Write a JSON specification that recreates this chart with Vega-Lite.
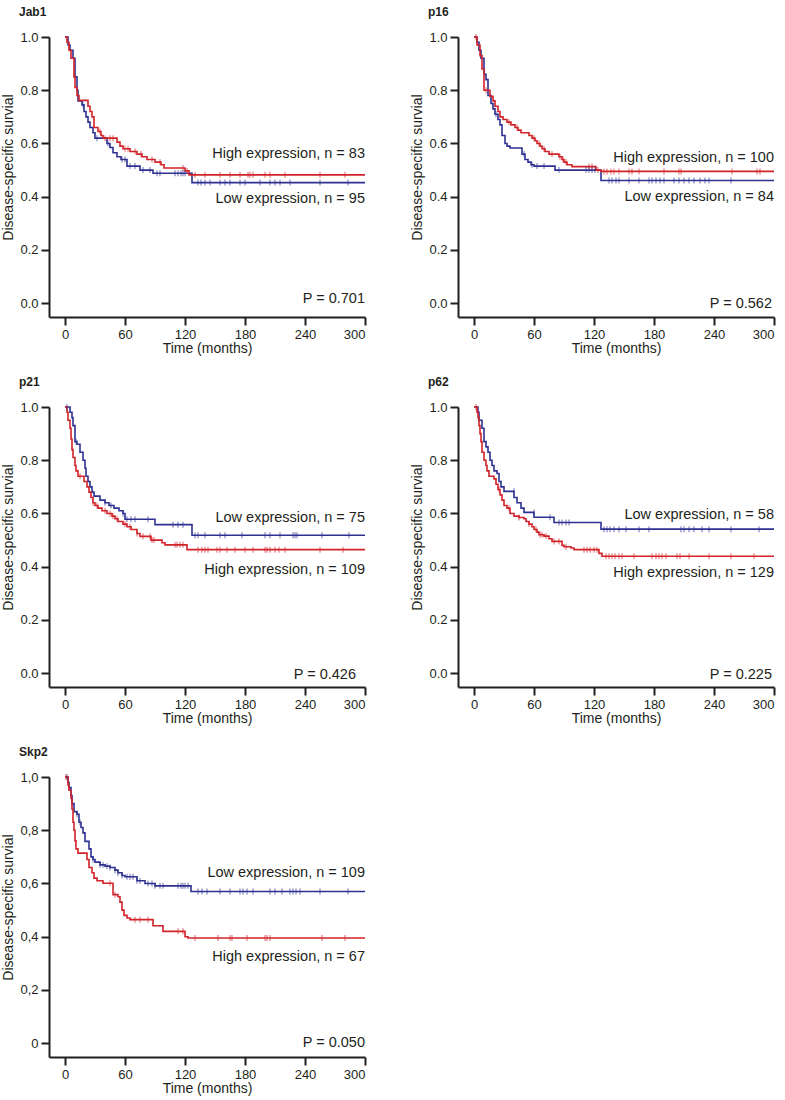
{
"$schema":"https://vega.github.io/schema/vega-lite/v6.json",
"padding":{"left":1,"top":6,"right":5,"bottom":5},
"bounds":"flush",
"columns":2,
"spacing":{"column":93,"row":90},
"config":{"font":"Liberation Sans","view":{"stroke":null},
"axis":{"domainColor":"#231f20","domainWidth":2,"tickColor":"#231f20","tickWidth":2,"tickSize":8,"labelFont":"Liberation Sans","labelFontSize":13,"labelColor":"#231f20","titleFont":"Liberation Sans","titleFontSize":14,"titleFontWeight":"normal","titleColor":"#231f20","grid":false,"labelPadding":3},
"axisX":{"titlePadding":0},
"axisY":{"titlePadding":4},
"title":{"font":"Liberation Sans","fontSize":12,"fontWeight":"bold","anchor":"start","frame":"group","dx":-30,"offset":12,"color":"#231f20"}},
"datasets":{
"curves":[
{"p":"Jab1","g":"Low","t":0,"s":1},{"p":"Jab1","g":"Low","t":3,"s":0.97},{"p":"Jab1","g":"Low","t":5,"s":0.95},{"p":"Jab1","g":"Low","t":8,"s":0.92},{"p":"Jab1","g":"Low","t":10,"s":0.85},{"p":"Jab1","g":"Low","t":12,"s":0.8},{"p":"Jab1","g":"Low","t":13,"s":0.76},{"p":"Jab1","g":"Low","t":17,"s":0.745},{"p":"Jab1","g":"Low","t":19,"s":0.72},{"p":"Jab1","g":"Low","t":21,"s":0.7},{"p":"Jab1","g":"Low","t":23,"s":0.68},{"p":"Jab1","g":"Low","t":25,"s":0.66},{"p":"Jab1","g":"Low","t":28,"s":0.64},{"p":"Jab1","g":"Low","t":30,"s":0.62},{"p":"Jab1","g":"Low","t":42,"s":0.6},{"p":"Jab1","g":"Low","t":45,"s":0.585},{"p":"Jab1","g":"Low","t":48,"s":0.565},{"p":"Jab1","g":"Low","t":52,"s":0.55},{"p":"Jab1","g":"Low","t":56,"s":0.54},{"p":"Jab1","g":"Low","t":62,"s":0.515},{"p":"Jab1","g":"Low","t":75,"s":0.5},{"p":"Jab1","g":"Low","t":88,"s":0.488},{"p":"Jab1","g":"Low","t":127,"s":0.453},{"p":"Jab1","g":"Low","t":300,"s":0.453},
{"p":"Jab1","g":"High","t":0,"s":1},{"p":"Jab1","g":"High","t":2,"s":0.98},{"p":"Jab1","g":"High","t":4,"s":0.95},{"p":"Jab1","g":"High","t":6,"s":0.92},{"p":"Jab1","g":"High","t":9,"s":0.85},{"p":"Jab1","g":"High","t":10,"s":0.81},{"p":"Jab1","g":"High","t":12,"s":0.78},{"p":"Jab1","g":"High","t":14,"s":0.762},{"p":"Jab1","g":"High","t":23,"s":0.74},{"p":"Jab1","g":"High","t":25,"s":0.72},{"p":"Jab1","g":"High","t":27,"s":0.7},{"p":"Jab1","g":"High","t":29,"s":0.66},{"p":"Jab1","g":"High","t":33,"s":0.645},{"p":"Jab1","g":"High","t":36,"s":0.63},{"p":"Jab1","g":"High","t":38,"s":0.62},{"p":"Jab1","g":"High","t":52,"s":0.605},{"p":"Jab1","g":"High","t":55,"s":0.59},{"p":"Jab1","g":"High","t":58,"s":0.58},{"p":"Jab1","g":"High","t":65,"s":0.57},{"p":"Jab1","g":"High","t":72,"s":0.56},{"p":"Jab1","g":"High","t":77,"s":0.55},{"p":"Jab1","g":"High","t":82,"s":0.54},{"p":"Jab1","g":"High","t":90,"s":0.53},{"p":"Jab1","g":"High","t":96,"s":0.52},{"p":"Jab1","g":"High","t":99,"s":0.508},{"p":"Jab1","g":"High","t":120,"s":0.497},{"p":"Jab1","g":"High","t":124,"s":0.482},{"p":"Jab1","g":"High","t":300,"s":0.482},
{"p":"p16","g":"Low","t":0,"s":1},{"p":"p16","g":"Low","t":3,"s":0.98},{"p":"p16","g":"Low","t":5,"s":0.95},{"p":"p16","g":"Low","t":7,"s":0.92},{"p":"p16","g":"Low","t":10,"s":0.86},{"p":"p16","g":"Low","t":12,"s":0.84},{"p":"p16","g":"Low","t":14,"s":0.78},{"p":"p16","g":"Low","t":17,"s":0.75},{"p":"p16","g":"Low","t":19,"s":0.73},{"p":"p16","g":"Low","t":21,"s":0.71},{"p":"p16","g":"Low","t":24,"s":0.69},{"p":"p16","g":"Low","t":26,"s":0.67},{"p":"p16","g":"Low","t":28,"s":0.63},{"p":"p16","g":"Low","t":31,"s":0.6},{"p":"p16","g":"Low","t":33,"s":0.59},{"p":"p16","g":"Low","t":36,"s":0.583},{"p":"p16","g":"Low","t":48,"s":0.56},{"p":"p16","g":"Low","t":51,"s":0.54},{"p":"p16","g":"Low","t":54,"s":0.53},{"p":"p16","g":"Low","t":57,"s":0.52},{"p":"p16","g":"Low","t":60,"s":0.515},{"p":"p16","g":"Low","t":81,"s":0.5},{"p":"p16","g":"Low","t":127,"s":0.461},{"p":"p16","g":"Low","t":300,"s":0.461},
{"p":"p16","g":"High","t":0,"s":1},{"p":"p16","g":"High","t":3,"s":0.97},{"p":"p16","g":"High","t":6,"s":0.93},{"p":"p16","g":"High","t":8,"s":0.88},{"p":"p16","g":"High","t":10,"s":0.8},{"p":"p16","g":"High","t":16,"s":0.777},{"p":"p16","g":"High","t":19,"s":0.76},{"p":"p16","g":"High","t":21,"s":0.74},{"p":"p16","g":"High","t":24,"s":0.72},{"p":"p16","g":"High","t":26,"s":0.7},{"p":"p16","g":"High","t":29,"s":0.69},{"p":"p16","g":"High","t":33,"s":0.68},{"p":"p16","g":"High","t":37,"s":0.67},{"p":"p16","g":"High","t":41,"s":0.66},{"p":"p16","g":"High","t":44,"s":0.65},{"p":"p16","g":"High","t":47,"s":0.64},{"p":"p16","g":"High","t":55,"s":0.63},{"p":"p16","g":"High","t":58,"s":0.62},{"p":"p16","g":"High","t":61,"s":0.61},{"p":"p16","g":"High","t":63,"s":0.6},{"p":"p16","g":"High","t":66,"s":0.59},{"p":"p16","g":"High","t":68,"s":0.58},{"p":"p16","g":"High","t":71,"s":0.57},{"p":"p16","g":"High","t":75,"s":0.56},{"p":"p16","g":"High","t":85,"s":0.55},{"p":"p16","g":"High","t":88,"s":0.54},{"p":"p16","g":"High","t":90,"s":0.53},{"p":"p16","g":"High","t":93,"s":0.52},{"p":"p16","g":"High","t":98,"s":0.513},{"p":"p16","g":"High","t":122,"s":0.5},{"p":"p16","g":"High","t":127,"s":0.495},{"p":"p16","g":"High","t":300,"s":0.495},
{"p":"p21","g":"Low","t":0,"s":1},{"p":"p21","g":"Low","t":5,"s":0.98},{"p":"p21","g":"Low","t":7,"s":0.96},{"p":"p21","g":"Low","t":8,"s":0.93},{"p":"p21","g":"Low","t":10,"s":0.87},{"p":"p21","g":"Low","t":12,"s":0.86},{"p":"p21","g":"Low","t":15,"s":0.83},{"p":"p21","g":"Low","t":18,"s":0.8},{"p":"p21","g":"Low","t":20,"s":0.77},{"p":"p21","g":"Low","t":21,"s":0.74},{"p":"p21","g":"Low","t":23,"s":0.72},{"p":"p21","g":"Low","t":25,"s":0.7},{"p":"p21","g":"Low","t":27,"s":0.68},{"p":"p21","g":"Low","t":29,"s":0.665},{"p":"p21","g":"Low","t":35,"s":0.65},{"p":"p21","g":"Low","t":40,"s":0.64},{"p":"p21","g":"Low","t":44,"s":0.63},{"p":"p21","g":"Low","t":49,"s":0.62},{"p":"p21","g":"Low","t":54,"s":0.61},{"p":"p21","g":"Low","t":58,"s":0.6},{"p":"p21","g":"Low","t":60,"s":0.578},{"p":"p21","g":"Low","t":90,"s":0.558},{"p":"p21","g":"Low","t":127,"s":0.518},{"p":"p21","g":"Low","t":300,"s":0.518},
{"p":"p21","g":"High","t":0,"s":1},{"p":"p21","g":"High","t":2,"s":0.98},{"p":"p21","g":"High","t":3,"s":0.95},{"p":"p21","g":"High","t":5,"s":0.92},{"p":"p21","g":"High","t":6,"s":0.88},{"p":"p21","g":"High","t":7,"s":0.84},{"p":"p21","g":"High","t":8,"s":0.81},{"p":"p21","g":"High","t":10,"s":0.78},{"p":"p21","g":"High","t":11,"s":0.76},{"p":"p21","g":"High","t":13,"s":0.74},{"p":"p21","g":"High","t":19,"s":0.72},{"p":"p21","g":"High","t":22,"s":0.7},{"p":"p21","g":"High","t":24,"s":0.68},{"p":"p21","g":"High","t":26,"s":0.66},{"p":"p21","g":"High","t":28,"s":0.64},{"p":"p21","g":"High","t":30,"s":0.63},{"p":"p21","g":"High","t":33,"s":0.62},{"p":"p21","g":"High","t":37,"s":0.61},{"p":"p21","g":"High","t":42,"s":0.6},{"p":"p21","g":"High","t":47,"s":0.59},{"p":"p21","g":"High","t":50,"s":0.58},{"p":"p21","g":"High","t":53,"s":0.57},{"p":"p21","g":"High","t":58,"s":0.56},{"p":"p21","g":"High","t":62,"s":0.55},{"p":"p21","g":"High","t":66,"s":0.54},{"p":"p21","g":"High","t":72,"s":0.525},{"p":"p21","g":"High","t":75,"s":0.514},{"p":"p21","g":"High","t":86,"s":0.5},{"p":"p21","g":"High","t":97,"s":0.49},{"p":"p21","g":"High","t":100,"s":0.482},{"p":"p21","g":"High","t":122,"s":0.464},{"p":"p21","g":"High","t":300,"s":0.464},
{"p":"p62","g":"Low","t":0,"s":1},{"p":"p62","g":"Low","t":4,"s":0.98},{"p":"p62","g":"Low","t":5,"s":0.95},{"p":"p62","g":"Low","t":8,"s":0.92},{"p":"p62","g":"Low","t":10,"s":0.87},{"p":"p62","g":"Low","t":12,"s":0.85},{"p":"p62","g":"Low","t":14,"s":0.83},{"p":"p62","g":"Low","t":16,"s":0.8},{"p":"p62","g":"Low","t":18,"s":0.78},{"p":"p62","g":"Low","t":20,"s":0.76},{"p":"p62","g":"Low","t":23,"s":0.75},{"p":"p62","g":"Low","t":25,"s":0.72},{"p":"p62","g":"Low","t":27,"s":0.7},{"p":"p62","g":"Low","t":30,"s":0.683},{"p":"p62","g":"Low","t":40,"s":0.66},{"p":"p62","g":"Low","t":43,"s":0.64},{"p":"p62","g":"Low","t":47,"s":0.62},{"p":"p62","g":"Low","t":50,"s":0.604},{"p":"p62","g":"Low","t":60,"s":0.586},{"p":"p62","g":"Low","t":80,"s":0.566},{"p":"p62","g":"Low","t":127,"s":0.541},{"p":"p62","g":"Low","t":300,"s":0.541},
{"p":"p62","g":"High","t":0,"s":1},{"p":"p62","g":"High","t":3,"s":0.98},{"p":"p62","g":"High","t":4,"s":0.96},{"p":"p62","g":"High","t":5,"s":0.93},{"p":"p62","g":"High","t":6,"s":0.9},{"p":"p62","g":"High","t":7,"s":0.87},{"p":"p62","g":"High","t":8,"s":0.83},{"p":"p62","g":"High","t":10,"s":0.8},{"p":"p62","g":"High","t":12,"s":0.78},{"p":"p62","g":"High","t":13,"s":0.76},{"p":"p62","g":"High","t":15,"s":0.74},{"p":"p62","g":"High","t":20,"s":0.73},{"p":"p62","g":"High","t":22,"s":0.71},{"p":"p62","g":"High","t":24,"s":0.69},{"p":"p62","g":"High","t":26,"s":0.67},{"p":"p62","g":"High","t":28,"s":0.65},{"p":"p62","g":"High","t":30,"s":0.63},{"p":"p62","g":"High","t":33,"s":0.62},{"p":"p62","g":"High","t":36,"s":0.6},{"p":"p62","g":"High","t":40,"s":0.59},{"p":"p62","g":"High","t":45,"s":0.585},{"p":"p62","g":"High","t":50,"s":0.58},{"p":"p62","g":"High","t":52,"s":0.57},{"p":"p62","g":"High","t":55,"s":0.56},{"p":"p62","g":"High","t":58,"s":0.55},{"p":"p62","g":"High","t":60,"s":0.54},{"p":"p62","g":"High","t":63,"s":0.53},{"p":"p62","g":"High","t":65,"s":0.52},{"p":"p62","g":"High","t":70,"s":0.515},{"p":"p62","g":"High","t":75,"s":0.505},{"p":"p62","g":"High","t":78,"s":0.495},{"p":"p62","g":"High","t":88,"s":0.48},{"p":"p62","g":"High","t":90,"s":0.475},{"p":"p62","g":"High","t":97,"s":0.47},{"p":"p62","g":"High","t":100,"s":0.464},{"p":"p62","g":"High","t":125,"s":0.45},{"p":"p62","g":"High","t":128,"s":0.439},{"p":"p62","g":"High","t":300,"s":0.439},
{"p":"Skp2","g":"Low","t":0,"s":1},{"p":"Skp2","g":"Low","t":3,"s":0.98},{"p":"Skp2","g":"Low","t":4,"s":0.96},{"p":"Skp2","g":"Low","t":6,"s":0.93},{"p":"Skp2","g":"Low","t":7,"s":0.9},{"p":"Skp2","g":"Low","t":9,"s":0.87},{"p":"Skp2","g":"Low","t":12,"s":0.86},{"p":"Skp2","g":"Low","t":14,"s":0.83},{"p":"Skp2","g":"Low","t":16,"s":0.81},{"p":"Skp2","g":"Low","t":18,"s":0.79},{"p":"Skp2","g":"Low","t":20,"s":0.758},{"p":"Skp2","g":"Low","t":24,"s":0.73},{"p":"Skp2","g":"Low","t":26,"s":0.7},{"p":"Skp2","g":"Low","t":28,"s":0.69},{"p":"Skp2","g":"Low","t":30,"s":0.68},{"p":"Skp2","g":"Low","t":35,"s":0.67},{"p":"Skp2","g":"Low","t":40,"s":0.665},{"p":"Skp2","g":"Low","t":45,"s":0.66},{"p":"Skp2","g":"Low","t":50,"s":0.65},{"p":"Skp2","g":"Low","t":53,"s":0.64},{"p":"Skp2","g":"Low","t":57,"s":0.63},{"p":"Skp2","g":"Low","t":60,"s":0.625},{"p":"Skp2","g":"Low","t":72,"s":0.61},{"p":"Skp2","g":"Low","t":80,"s":0.6},{"p":"Skp2","g":"Low","t":90,"s":0.591},{"p":"Skp2","g":"Low","t":126,"s":0.57},{"p":"Skp2","g":"Low","t":300,"s":0.57},
{"p":"Skp2","g":"High","t":0,"s":1},{"p":"Skp2","g":"High","t":3,"s":0.97},{"p":"Skp2","g":"High","t":4,"s":0.95},{"p":"Skp2","g":"High","t":6,"s":0.92},{"p":"Skp2","g":"High","t":7,"s":0.88},{"p":"Skp2","g":"High","t":8,"s":0.83},{"p":"Skp2","g":"High","t":9,"s":0.8},{"p":"Skp2","g":"High","t":10,"s":0.76},{"p":"Skp2","g":"High","t":11,"s":0.73},{"p":"Skp2","g":"High","t":13,"s":0.714},{"p":"Skp2","g":"High","t":22,"s":0.69},{"p":"Skp2","g":"High","t":24,"s":0.66},{"p":"Skp2","g":"High","t":27,"s":0.64},{"p":"Skp2","g":"High","t":29,"s":0.62},{"p":"Skp2","g":"High","t":32,"s":0.61},{"p":"Skp2","g":"High","t":38,"s":0.601},{"p":"Skp2","g":"High","t":48,"s":0.558},{"p":"Skp2","g":"High","t":53,"s":0.55},{"p":"Skp2","g":"High","t":55,"s":0.53},{"p":"Skp2","g":"High","t":57,"s":0.5},{"p":"Skp2","g":"High","t":59,"s":0.48},{"p":"Skp2","g":"High","t":62,"s":0.47},{"p":"Skp2","g":"High","t":65,"s":0.464},{"p":"Skp2","g":"High","t":88,"s":0.441},{"p":"Skp2","g":"High","t":98,"s":0.42},{"p":"Skp2","g":"High","t":120,"s":0.4},{"p":"Skp2","g":"High","t":123,"s":0.395},{"p":"Skp2","g":"High","t":300,"s":0.395}
],
"censors":[
{"p":"Jab1","g":"Low","t":18,"s":0.745},{"p":"Jab1","g":"Low","t":32,"s":0.62},{"p":"Jab1","g":"Low","t":43,"s":0.6},{"p":"Jab1","g":"Low","t":57,"s":0.54},{"p":"Jab1","g":"Low","t":60,"s":0.54},{"p":"Jab1","g":"Low","t":65,"s":0.515},{"p":"Jab1","g":"Low","t":70,"s":0.515},{"p":"Jab1","g":"Low","t":78,"s":0.5},{"p":"Jab1","g":"Low","t":85,"s":0.5},{"p":"Jab1","g":"Low","t":92,"s":0.488},{"p":"Jab1","g":"Low","t":95,"s":0.488},{"p":"Jab1","g":"Low","t":110,"s":0.488},{"p":"Jab1","g":"Low","t":113,"s":0.488},{"p":"Jab1","g":"Low","t":116,"s":0.488},{"p":"Jab1","g":"Low","t":118,"s":0.488},{"p":"Jab1","g":"Low","t":120,"s":0.488},{"p":"Jab1","g":"Low","t":133,"s":0.453},{"p":"Jab1","g":"Low","t":136,"s":0.453},{"p":"Jab1","g":"Low","t":140,"s":0.453},{"p":"Jab1","g":"Low","t":145,"s":0.453},{"p":"Jab1","g":"Low","t":155,"s":0.453},{"p":"Jab1","g":"Low","t":160,"s":0.453},{"p":"Jab1","g":"Low","t":165,"s":0.453},{"p":"Jab1","g":"Low","t":175,"s":0.453},{"p":"Jab1","g":"Low","t":180,"s":0.453},{"p":"Jab1","g":"Low","t":195,"s":0.453},{"p":"Jab1","g":"Low","t":205,"s":0.453},{"p":"Jab1","g":"Low","t":210,"s":0.453},{"p":"Jab1","g":"Low","t":215,"s":0.453},{"p":"Jab1","g":"Low","t":225,"s":0.453},{"p":"Jab1","g":"Low","t":255,"s":0.453},{"p":"Jab1","g":"Low","t":283,"s":0.453},
{"p":"Jab1","g":"High","t":35,"s":0.645},{"p":"Jab1","g":"High","t":40,"s":0.62},{"p":"Jab1","g":"High","t":45,"s":0.62},{"p":"Jab1","g":"High","t":48,"s":0.62},{"p":"Jab1","g":"High","t":60,"s":0.58},{"p":"Jab1","g":"High","t":63,"s":0.58},{"p":"Jab1","g":"High","t":70,"s":0.57},{"p":"Jab1","g":"High","t":76,"s":0.56},{"p":"Jab1","g":"High","t":87,"s":0.54},{"p":"Jab1","g":"High","t":95,"s":0.53},{"p":"Jab1","g":"High","t":118,"s":0.508},{"p":"Jab1","g":"High","t":122,"s":0.497},{"p":"Jab1","g":"High","t":130,"s":0.482},{"p":"Jab1","g":"High","t":140,"s":0.482},{"p":"Jab1","g":"High","t":155,"s":0.482},{"p":"Jab1","g":"High","t":165,"s":0.482},{"p":"Jab1","g":"High","t":175,"s":0.482},{"p":"Jab1","g":"High","t":183,"s":0.482},{"p":"Jab1","g":"High","t":185,"s":0.482},{"p":"Jab1","g":"High","t":188,"s":0.482},{"p":"Jab1","g":"High","t":200,"s":0.482},{"p":"Jab1","g":"High","t":205,"s":0.482},{"p":"Jab1","g":"High","t":220,"s":0.482},{"p":"Jab1","g":"High","t":255,"s":0.482},{"p":"Jab1","g":"High","t":280,"s":0.482},
{"p":"p16","g":"Low","t":22,"s":0.71},{"p":"p16","g":"Low","t":50,"s":0.56},{"p":"p16","g":"Low","t":58,"s":0.52},{"p":"p16","g":"Low","t":63,"s":0.515},{"p":"p16","g":"Low","t":70,"s":0.515},{"p":"p16","g":"Low","t":85,"s":0.5},{"p":"p16","g":"Low","t":112,"s":0.5},{"p":"p16","g":"Low","t":115,"s":0.5},{"p":"p16","g":"Low","t":118,"s":0.5},{"p":"p16","g":"Low","t":121,"s":0.5},{"p":"p16","g":"Low","t":135,"s":0.461},{"p":"p16","g":"Low","t":138,"s":0.461},{"p":"p16","g":"Low","t":142,"s":0.461},{"p":"p16","g":"Low","t":145,"s":0.461},{"p":"p16","g":"Low","t":155,"s":0.461},{"p":"p16","g":"Low","t":165,"s":0.461},{"p":"p16","g":"Low","t":175,"s":0.461},{"p":"p16","g":"Low","t":178,"s":0.461},{"p":"p16","g":"Low","t":182,"s":0.461},{"p":"p16","g":"Low","t":186,"s":0.461},{"p":"p16","g":"Low","t":190,"s":0.461},{"p":"p16","g":"Low","t":200,"s":0.461},{"p":"p16","g":"Low","t":205,"s":0.461},{"p":"p16","g":"Low","t":210,"s":0.461},{"p":"p16","g":"Low","t":215,"s":0.461},{"p":"p16","g":"Low","t":220,"s":0.461},{"p":"p16","g":"Low","t":226,"s":0.461},{"p":"p16","g":"Low","t":231,"s":0.461},{"p":"p16","g":"Low","t":235,"s":0.461},{"p":"p16","g":"Low","t":257,"s":0.461},
{"p":"p16","g":"High","t":2,"s":1},{"p":"p16","g":"High","t":12,"s":0.8},{"p":"p16","g":"High","t":35,"s":0.68},{"p":"p16","g":"High","t":43,"s":0.66},{"p":"p16","g":"High","t":60,"s":0.62},{"p":"p16","g":"High","t":65,"s":0.6},{"p":"p16","g":"High","t":70,"s":0.58},{"p":"p16","g":"High","t":78,"s":0.56},{"p":"p16","g":"High","t":86,"s":0.55},{"p":"p16","g":"High","t":89,"s":0.54},{"p":"p16","g":"High","t":92,"s":0.53},{"p":"p16","g":"High","t":115,"s":0.513},{"p":"p16","g":"High","t":118,"s":0.513},{"p":"p16","g":"High","t":124,"s":0.5},{"p":"p16","g":"High","t":130,"s":0.495},{"p":"p16","g":"High","t":133,"s":0.495},{"p":"p16","g":"High","t":137,"s":0.495},{"p":"p16","g":"High","t":140,"s":0.495},{"p":"p16","g":"High","t":145,"s":0.495},{"p":"p16","g":"High","t":155,"s":0.495},{"p":"p16","g":"High","t":158,"s":0.495},{"p":"p16","g":"High","t":165,"s":0.495},{"p":"p16","g":"High","t":190,"s":0.495},{"p":"p16","g":"High","t":205,"s":0.495},{"p":"p16","g":"High","t":207,"s":0.495},{"p":"p16","g":"High","t":258,"s":0.495},{"p":"p16","g":"High","t":283,"s":0.495},{"p":"p16","g":"High","t":286,"s":0.495},
{"p":"p21","g":"Low","t":2,"s":1},{"p":"p21","g":"Low","t":11,"s":0.87},{"p":"p21","g":"Low","t":40,"s":0.64},{"p":"p21","g":"Low","t":46,"s":0.63},{"p":"p21","g":"Low","t":58,"s":0.6},{"p":"p21","g":"Low","t":62,"s":0.578},{"p":"p21","g":"Low","t":66,"s":0.578},{"p":"p21","g":"Low","t":70,"s":0.578},{"p":"p21","g":"Low","t":83,"s":0.578},{"p":"p21","g":"Low","t":108,"s":0.558},{"p":"p21","g":"Low","t":113,"s":0.558},{"p":"p21","g":"Low","t":118,"s":0.558},{"p":"p21","g":"Low","t":130,"s":0.518},{"p":"p21","g":"Low","t":133,"s":0.518},{"p":"p21","g":"Low","t":140,"s":0.518},{"p":"p21","g":"Low","t":155,"s":0.518},{"p":"p21","g":"Low","t":160,"s":0.518},{"p":"p21","g":"Low","t":177,"s":0.518},{"p":"p21","g":"Low","t":200,"s":0.518},{"p":"p21","g":"Low","t":205,"s":0.518},{"p":"p21","g":"Low","t":215,"s":0.518},{"p":"p21","g":"Low","t":228,"s":0.518},{"p":"p21","g":"Low","t":230,"s":0.518},{"p":"p21","g":"Low","t":232,"s":0.518},{"p":"p21","g":"Low","t":257,"s":0.518},{"p":"p21","g":"Low","t":284,"s":0.518},
{"p":"p21","g":"High","t":15,"s":0.74},{"p":"p21","g":"High","t":28,"s":0.64},{"p":"p21","g":"High","t":32,"s":0.63},{"p":"p21","g":"High","t":40,"s":0.61},{"p":"p21","g":"High","t":45,"s":0.6},{"p":"p21","g":"High","t":48,"s":0.59},{"p":"p21","g":"High","t":52,"s":0.58},{"p":"p21","g":"High","t":60,"s":0.56},{"p":"p21","g":"High","t":65,"s":0.55},{"p":"p21","g":"High","t":72,"s":0.525},{"p":"p21","g":"High","t":78,"s":0.514},{"p":"p21","g":"High","t":85,"s":0.514},{"p":"p21","g":"High","t":87,"s":0.5},{"p":"p21","g":"High","t":89,"s":0.5},{"p":"p21","g":"High","t":110,"s":0.482},{"p":"p21","g":"High","t":112,"s":0.482},{"p":"p21","g":"High","t":115,"s":0.482},{"p":"p21","g":"High","t":118,"s":0.482},{"p":"p21","g":"High","t":133,"s":0.464},{"p":"p21","g":"High","t":137,"s":0.464},{"p":"p21","g":"High","t":140,"s":0.464},{"p":"p21","g":"High","t":143,"s":0.464},{"p":"p21","g":"High","t":152,"s":0.464},{"p":"p21","g":"High","t":155,"s":0.464},{"p":"p21","g":"High","t":162,"s":0.464},{"p":"p21","g":"High","t":170,"s":0.464},{"p":"p21","g":"High","t":180,"s":0.464},{"p":"p21","g":"High","t":188,"s":0.464},{"p":"p21","g":"High","t":200,"s":0.464},{"p":"p21","g":"High","t":202,"s":0.464},{"p":"p21","g":"High","t":205,"s":0.464},{"p":"p21","g":"High","t":210,"s":0.464},{"p":"p21","g":"High","t":214,"s":0.464},{"p":"p21","g":"High","t":220,"s":0.464},{"p":"p21","g":"High","t":255,"s":0.464},{"p":"p21","g":"High","t":278,"s":0.464},
{"p":"p62","g":"Low","t":40,"s":0.683},{"p":"p62","g":"Low","t":60,"s":0.604},{"p":"p62","g":"Low","t":76,"s":0.586},{"p":"p62","g":"Low","t":85,"s":0.566},{"p":"p62","g":"Low","t":88,"s":0.566},{"p":"p62","g":"Low","t":92,"s":0.566},{"p":"p62","g":"Low","t":95,"s":0.566},{"p":"p62","g":"Low","t":130,"s":0.541},{"p":"p62","g":"Low","t":133,"s":0.541},{"p":"p62","g":"Low","t":136,"s":0.541},{"p":"p62","g":"Low","t":140,"s":0.541},{"p":"p62","g":"Low","t":145,"s":0.541},{"p":"p62","g":"Low","t":152,"s":0.541},{"p":"p62","g":"Low","t":165,"s":0.541},{"p":"p62","g":"Low","t":175,"s":0.541},{"p":"p62","g":"Low","t":207,"s":0.541},{"p":"p62","g":"Low","t":210,"s":0.541},{"p":"p62","g":"Low","t":215,"s":0.541},{"p":"p62","g":"Low","t":220,"s":0.541},{"p":"p62","g":"Low","t":228,"s":0.541},{"p":"p62","g":"Low","t":235,"s":0.541},{"p":"p62","g":"Low","t":257,"s":0.541},{"p":"p62","g":"Low","t":285,"s":0.541},
{"p":"p62","g":"High","t":2,"s":1},{"p":"p62","g":"High","t":25,"s":0.69},{"p":"p62","g":"High","t":35,"s":0.62},{"p":"p62","g":"High","t":45,"s":0.585},{"p":"p62","g":"High","t":55,"s":0.56},{"p":"p62","g":"High","t":62,"s":0.54},{"p":"p62","g":"High","t":66,"s":0.52},{"p":"p62","g":"High","t":68,"s":0.52},{"p":"p62","g":"High","t":72,"s":0.515},{"p":"p62","g":"High","t":80,"s":0.495},{"p":"p62","g":"High","t":85,"s":0.495},{"p":"p62","g":"High","t":92,"s":0.475},{"p":"p62","g":"High","t":110,"s":0.464},{"p":"p62","g":"High","t":113,"s":0.464},{"p":"p62","g":"High","t":116,"s":0.464},{"p":"p62","g":"High","t":120,"s":0.464},{"p":"p62","g":"High","t":123,"s":0.464},{"p":"p62","g":"High","t":132,"s":0.439},{"p":"p62","g":"High","t":135,"s":0.439},{"p":"p62","g":"High","t":138,"s":0.439},{"p":"p62","g":"High","t":141,"s":0.439},{"p":"p62","g":"High","t":145,"s":0.439},{"p":"p62","g":"High","t":148,"s":0.439},{"p":"p62","g":"High","t":160,"s":0.439},{"p":"p62","g":"High","t":178,"s":0.439},{"p":"p62","g":"High","t":182,"s":0.439},{"p":"p62","g":"High","t":185,"s":0.439},{"p":"p62","g":"High","t":188,"s":0.439},{"p":"p62","g":"High","t":192,"s":0.439},{"p":"p62","g":"High","t":203,"s":0.439},{"p":"p62","g":"High","t":206,"s":0.439},{"p":"p62","g":"High","t":215,"s":0.439},{"p":"p62","g":"High","t":235,"s":0.439},{"p":"p62","g":"High","t":257,"s":0.439},{"p":"p62","g":"High","t":280,"s":0.439},
{"p":"Skp2","g":"Low","t":2,"s":1},{"p":"Skp2","g":"Low","t":12,"s":0.86},{"p":"Skp2","g":"Low","t":15,"s":0.83},{"p":"Skp2","g":"Low","t":28,"s":0.69},{"p":"Skp2","g":"Low","t":35,"s":0.67},{"p":"Skp2","g":"Low","t":38,"s":0.67},{"p":"Skp2","g":"Low","t":42,"s":0.665},{"p":"Skp2","g":"Low","t":45,"s":0.66},{"p":"Skp2","g":"Low","t":50,"s":0.65},{"p":"Skp2","g":"Low","t":53,"s":0.64},{"p":"Skp2","g":"Low","t":57,"s":0.63},{"p":"Skp2","g":"Low","t":62,"s":0.625},{"p":"Skp2","g":"Low","t":65,"s":0.625},{"p":"Skp2","g":"Low","t":68,"s":0.625},{"p":"Skp2","g":"Low","t":72,"s":0.61},{"p":"Skp2","g":"Low","t":75,"s":0.61},{"p":"Skp2","g":"Low","t":83,"s":0.6},{"p":"Skp2","g":"Low","t":87,"s":0.6},{"p":"Skp2","g":"Low","t":90,"s":0.591},{"p":"Skp2","g":"Low","t":95,"s":0.591},{"p":"Skp2","g":"Low","t":98,"s":0.591},{"p":"Skp2","g":"Low","t":113,"s":0.591},{"p":"Skp2","g":"Low","t":116,"s":0.591},{"p":"Skp2","g":"Low","t":118,"s":0.591},{"p":"Skp2","g":"Low","t":120,"s":0.591},{"p":"Skp2","g":"Low","t":123,"s":0.591},{"p":"Skp2","g":"Low","t":133,"s":0.57},{"p":"Skp2","g":"Low","t":137,"s":0.57},{"p":"Skp2","g":"Low","t":142,"s":0.57},{"p":"Skp2","g":"Low","t":155,"s":0.57},{"p":"Skp2","g":"Low","t":165,"s":0.57},{"p":"Skp2","g":"Low","t":175,"s":0.57},{"p":"Skp2","g":"Low","t":178,"s":0.57},{"p":"Skp2","g":"Low","t":182,"s":0.57},{"p":"Skp2","g":"Low","t":188,"s":0.57},{"p":"Skp2","g":"Low","t":205,"s":0.57},{"p":"Skp2","g":"Low","t":210,"s":0.57},{"p":"Skp2","g":"Low","t":217,"s":0.57},{"p":"Skp2","g":"Low","t":225,"s":0.57},{"p":"Skp2","g":"Low","t":228,"s":0.57},{"p":"Skp2","g":"Low","t":231,"s":0.57},{"p":"Skp2","g":"Low","t":235,"s":0.57},{"p":"Skp2","g":"Low","t":255,"s":0.57},{"p":"Skp2","g":"Low","t":283,"s":0.57},
{"p":"Skp2","g":"High","t":1,"s":1},{"p":"Skp2","g":"High","t":45,"s":0.601},{"p":"Skp2","g":"High","t":50,"s":0.558},{"p":"Skp2","g":"High","t":70,"s":0.464},{"p":"Skp2","g":"High","t":75,"s":0.464},{"p":"Skp2","g":"High","t":83,"s":0.464},{"p":"Skp2","g":"High","t":113,"s":0.42},{"p":"Skp2","g":"High","t":118,"s":0.42},{"p":"Skp2","g":"High","t":130,"s":0.395},{"p":"Skp2","g":"High","t":153,"s":0.395},{"p":"Skp2","g":"High","t":165,"s":0.395},{"p":"Skp2","g":"High","t":167,"s":0.395},{"p":"Skp2","g":"High","t":182,"s":0.395},{"p":"Skp2","g":"High","t":200,"s":0.395},{"p":"Skp2","g":"High","t":202,"s":0.395},{"p":"Skp2","g":"High","t":205,"s":0.395},{"p":"Skp2","g":"High","t":257,"s":0.395},{"p":"Skp2","g":"High","t":280,"s":0.395}
],
"labels":[
{"p":"Jab1","text":"High expression, n = 83","t":300,"s":0.561},{"p":"Jab1","text":"Low expression, n = 95","t":300,"s":0.391},{"p":"Jab1","text":"P = 0.701","t":300,"s":0.015},
{"p":"p16","text":"High expression, n = 100","t":300,"s":0.545},{"p":"p16","text":"Low expression, n = 84","t":300,"s":0.398},{"p":"p16","text":"P = 0.562","t":298,"s":-0.003},
{"p":"p21","text":"Low expression, n = 75","t":300,"s":0.583},{"p":"p21","text":"High expression, n = 109","t":300,"s":0.386},{"p":"p21","text":"P = 0.426","t":291,"s":-0.006},
{"p":"p62","text":"Low expression, n = 58","t":300,"s":0.595},{"p":"p62","text":"High expression, n = 129","t":300,"s":0.376},{"p":"p62","text":"P = 0.225","t":298,"s":-0.006},
{"p":"Skp2","text":"Low expression, n = 109","t":300,"s":0.639},{"p":"Skp2","text":"High expression, n = 67","t":300,"s":0.323},{"p":"Skp2","text":"P = 0.050","t":300,"s":0.0}
]},
"concat":[
{"width":316,"height":280,"title":{"text":"Jab1"},
"layer":[
{"data":{"name":"curves"},"transform":[{"filter":"datum.p=='Jab1'"}],"mark":{"type":"line","interpolate":"step-after","strokeWidth":1.6},
"encoding":{"x":{"field":"t","type":"quantitative","scale":{"domain":[-16,300],"nice":false,"zero":false},"axis":{"values":[0,60,120,180,240,300],"title":"Time (months)"}},
"y":{"field":"s","type":"quantitative","scale":{"domain":[-0.052,1],"nice":false,"zero":false},"axis":{"values":[0,0.2,0.4,0.6,0.8,1],"format":".1f","title":"Disease-specific survial","titleY":130}},
"color":{"field":"g","type":"nominal","scale":{"domain":["High","Low"],"range":["#d1232a","#2e3192"]},"legend":null}}},
{"data":{"name":"censors"},"transform":[{"filter":"datum.p=='Jab1'"}],"mark":{"type":"tick","orient":"vertical","size":6,"thickness":1},
"encoding":{"x":{"field":"t","type":"quantitative"},"y":{"field":"s","type":"quantitative"},"color":{"field":"g","type":"nominal","legend":null}}},
{"data":{"name":"labels"},"transform":[{"filter":"datum.p=='Jab1'"}],"mark":{"type":"text","align":"right","baseline":"middle","fontSize":14.5,"color":"#231f20","font":"Liberation Sans"},
"encoding":{"x":{"field":"t","type":"quantitative"},"y":{"field":"s","type":"quantitative"},"text":{"field":"text"}}}
]},
{"width":316,"height":280,"title":{"text":"p16"},
"layer":[
{"data":{"name":"curves"},"transform":[{"filter":"datum.p=='p16'"}],"mark":{"type":"line","interpolate":"step-after","strokeWidth":1.6},
"encoding":{"x":{"field":"t","type":"quantitative","scale":{"domain":[-16,300],"nice":false,"zero":false},"axis":{"values":[0,60,120,180,240,300],"title":"Time (months)"}},
"y":{"field":"s","type":"quantitative","scale":{"domain":[-0.052,1],"nice":false,"zero":false},"axis":{"values":[0,0.2,0.4,0.6,0.8,1],"format":".1f","title":"Disease-specific survial","titleY":130}},
"color":{"field":"g","type":"nominal","scale":{"domain":["High","Low"],"range":["#d1232a","#2e3192"]},"legend":null}}},
{"data":{"name":"censors"},"transform":[{"filter":"datum.p=='p16'"}],"mark":{"type":"tick","orient":"vertical","size":6,"thickness":1},
"encoding":{"x":{"field":"t","type":"quantitative"},"y":{"field":"s","type":"quantitative"},"color":{"field":"g","type":"nominal","legend":null}}},
{"data":{"name":"labels"},"transform":[{"filter":"datum.p=='p16'"}],"mark":{"type":"text","align":"right","baseline":"middle","fontSize":14.5,"color":"#231f20","font":"Liberation Sans"},
"encoding":{"x":{"field":"t","type":"quantitative"},"y":{"field":"s","type":"quantitative"},"text":{"field":"text"}}}
]},
{"width":316,"height":280,"title":{"text":"p21"},
"layer":[
{"data":{"name":"curves"},"transform":[{"filter":"datum.p=='p21'"}],"mark":{"type":"line","interpolate":"step-after","strokeWidth":1.6},
"encoding":{"x":{"field":"t","type":"quantitative","scale":{"domain":[-16,300],"nice":false,"zero":false},"axis":{"values":[0,60,120,180,240,300],"title":"Time (months)"}},
"y":{"field":"s","type":"quantitative","scale":{"domain":[-0.052,1],"nice":false,"zero":false},"axis":{"values":[0,0.2,0.4,0.6,0.8,1],"format":".1f","title":"Disease-specific survial","titleY":130}},
"color":{"field":"g","type":"nominal","scale":{"domain":["High","Low"],"range":["#d1232a","#2e3192"]},"legend":null}}},
{"data":{"name":"censors"},"transform":[{"filter":"datum.p=='p21'"}],"mark":{"type":"tick","orient":"vertical","size":6,"thickness":1},
"encoding":{"x":{"field":"t","type":"quantitative"},"y":{"field":"s","type":"quantitative"},"color":{"field":"g","type":"nominal","legend":null}}},
{"data":{"name":"labels"},"transform":[{"filter":"datum.p=='p21'"}],"mark":{"type":"text","align":"right","baseline":"middle","fontSize":14.5,"color":"#231f20","font":"Liberation Sans"},
"encoding":{"x":{"field":"t","type":"quantitative"},"y":{"field":"s","type":"quantitative"},"text":{"field":"text"}}}
]},
{"width":316,"height":280,"title":{"text":"p62"},
"layer":[
{"data":{"name":"curves"},"transform":[{"filter":"datum.p=='p62'"}],"mark":{"type":"line","interpolate":"step-after","strokeWidth":1.6},
"encoding":{"x":{"field":"t","type":"quantitative","scale":{"domain":[-16,300],"nice":false,"zero":false},"axis":{"values":[0,60,120,180,240,300],"title":"Time (months)"}},
"y":{"field":"s","type":"quantitative","scale":{"domain":[-0.052,1],"nice":false,"zero":false},"axis":{"values":[0,0.2,0.4,0.6,0.8,1],"format":".1f","title":"Disease-specific survial","titleY":130}},
"color":{"field":"g","type":"nominal","scale":{"domain":["High","Low"],"range":["#d1232a","#2e3192"]},"legend":null}}},
{"data":{"name":"censors"},"transform":[{"filter":"datum.p=='p62'"}],"mark":{"type":"tick","orient":"vertical","size":6,"thickness":1},
"encoding":{"x":{"field":"t","type":"quantitative"},"y":{"field":"s","type":"quantitative"},"color":{"field":"g","type":"nominal","legend":null}}},
{"data":{"name":"labels"},"transform":[{"filter":"datum.p=='p62'"}],"mark":{"type":"text","align":"right","baseline":"middle","fontSize":14.5,"color":"#231f20","font":"Liberation Sans"},
"encoding":{"x":{"field":"t","type":"quantitative"},"y":{"field":"s","type":"quantitative"},"text":{"field":"text"}}}
]},
{"width":316,"height":280,"title":{"text":"Skp2"},
"layer":[
{"data":{"name":"curves"},"transform":[{"filter":"datum.p=='Skp2'"}],"mark":{"type":"line","interpolate":"step-after","strokeWidth":1.6},
"encoding":{"x":{"field":"t","type":"quantitative","scale":{"domain":[-16,300],"nice":false,"zero":false},"axis":{"values":[0,60,120,180,240,300],"title":"Time (months)"}},
"y":{"field":"s","type":"quantitative","scale":{"domain":[-0.052,1],"nice":false,"zero":false},"axis":{"values":[0,0.2,0.4,0.6,0.8,1],"labelExpr":"datum.value == 0 ? '0' : replace(format(datum.value, '.1f'), '.', ',')","title":"Disease-specific survial","titleY":130}},
"color":{"field":"g","type":"nominal","scale":{"domain":["High","Low"],"range":["#d1232a","#2e3192"]},"legend":null}}},
{"data":{"name":"censors"},"transform":[{"filter":"datum.p=='Skp2'"}],"mark":{"type":"tick","orient":"vertical","size":6,"thickness":1},
"encoding":{"x":{"field":"t","type":"quantitative"},"y":{"field":"s","type":"quantitative"},"color":{"field":"g","type":"nominal","legend":null}}},
{"data":{"name":"labels"},"transform":[{"filter":"datum.p=='Skp2'"}],"mark":{"type":"text","align":"right","baseline":"middle","fontSize":14.5,"color":"#231f20","font":"Liberation Sans"},
"encoding":{"x":{"field":"t","type":"quantitative"},"y":{"field":"s","type":"quantitative"},"text":{"field":"text"}}}
]}
]
}
